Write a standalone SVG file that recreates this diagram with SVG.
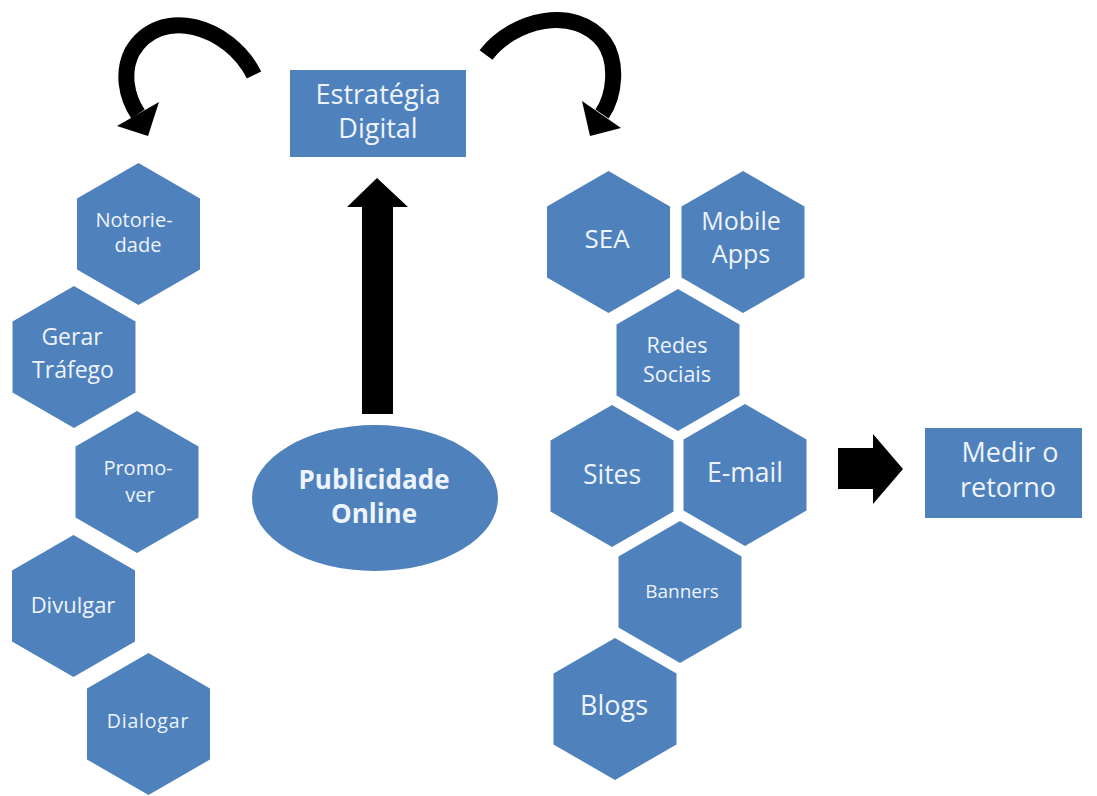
<svg xmlns="http://www.w3.org/2000/svg" xmlns:xlink="http://www.w3.org/1999/xlink" width="1097" height="796" viewBox="0 0 1097 796">
  <style>
    .shape { fill: #4f81bd; }
    .lbl { font-family: "Open Sans", Lato, "Liberation Sans", sans-serif; fill: #eef4fc; text-anchor: middle; }
    .bold { font-weight: bold; }
    .curve { fill: none; stroke: #000; stroke-width: 16; stroke-linecap: butt; }
    .solid { fill: #000; }
  </style>
  <defs>
    <!-- pointy-top hexagon, radius 71 -->
    <polygon id="hex" points="0,-71 61.5,-35.5 61.5,35.5 0,71 -61.5,35.5 -61.5,-35.5"/>
  </defs>
  <rect width="1097" height="796" fill="#ffffff"/>

  <!-- central nodes -->
  <g id="estrategia">
    <rect class="shape" x="290" y="70" width="176" height="87"/>
    <text class="lbl" x="378" y="104" font-size="27">Estratégia</text>
    <text class="lbl" x="378" y="138" font-size="27">Digital</text>
  </g>
  <g id="publicidade">
    <ellipse class="shape" cx="375" cy="498" rx="123" ry="73"/>
    <text class="lbl bold" x="374" y="489" font-size="26">Publicidade</text>
    <text class="lbl bold" x="374" y="523" font-size="26">Online</text>
  </g>
  <g id="medir">
    <rect class="shape" x="925" y="428" width="157" height="90"/>
    <text class="lbl" x="1010" y="462" font-size="27">Medir o</text>
    <text class="lbl" x="1008" y="497" font-size="27">retorno</text>
  </g>

  <!-- objectives column -->
  <g id="notoriedade">
    <use xlink:href="#hex" class="shape" x="138.5" y="234"/>
    <text class="lbl" x="134" y="227" font-size="20">Notorie-</text>
    <text class="lbl" x="138" y="252" font-size="20">dade</text>
  </g>
  <g id="gerar-trafego">
    <use xlink:href="#hex" class="shape" x="74" y="357"/>
    <text class="lbl" x="72" y="345" font-size="23">Gerar</text>
    <text class="lbl" x="73" y="378" font-size="23">Tráfego</text>
  </g>
  <g id="promover">
    <use xlink:href="#hex" class="shape" x="137" y="482"/>
    <text class="lbl" x="138" y="475" font-size="20">Promo-</text>
    <text class="lbl" x="140" y="502" font-size="20">ver</text>
  </g>
  <g id="divulgar">
    <use xlink:href="#hex" class="shape" x="73.5" y="606"/>
    <text class="lbl" x="73" y="613" font-size="22">Divulgar</text>
  </g>
  <g id="dialogar">
    <use xlink:href="#hex" class="shape" x="148.5" y="724"/>
    <text class="lbl" x="148" y="728" font-size="19.5" letter-spacing="0.8">Dialogar</text>
  </g>

  <!-- channels cluster -->
  <g id="sea">
    <use xlink:href="#hex" class="shape" x="608.5" y="242"/>
    <text class="lbl" x="607" y="248" font-size="26">SEA</text>
  </g>
  <g id="mobile-apps">
    <use xlink:href="#hex" class="shape" x="743" y="242"/>
    <text class="lbl" x="741" y="230" font-size="25">Mobile</text>
    <text class="lbl" x="741" y="263" font-size="25">Apps</text>
  </g>
  <g id="redes-sociais">
    <use xlink:href="#hex" class="shape" x="678" y="360"/>
    <text class="lbl" x="677" y="353" font-size="21.5">Redes</text>
    <text class="lbl" x="677" y="382" font-size="21.5">Sociais</text>
  </g>
  <g id="sites">
    <use xlink:href="#hex" class="shape" x="612" y="476"/>
    <text class="lbl" x="612" y="484" font-size="26.5">Sites</text>
  </g>
  <g id="email">
    <use xlink:href="#hex" class="shape" x="745" y="475"/>
    <text class="lbl" x="745" y="482" font-size="26.5">E-mail</text>
  </g>
  <g id="banners">
    <use xlink:href="#hex" class="shape" x="680" y="592"/>
    <text class="lbl" x="682" y="598" font-size="19">Banners</text>
  </g>
  <g id="blogs">
    <use xlink:href="#hex" class="shape" x="615" y="709"/>
    <text class="lbl" x="614" y="715" font-size="27">Blogs</text>
  </g>

  <!-- connectors -->
  <g id="connectors">
    <!-- curved arrow towards the objectives -->
    <path class="curve" d="M 254 75 C 230 26, 160 4, 132 52 C 122 72, 126 96, 138 114"/>
    <polygon class="solid" points="117,126 159,102 148,136"/>
    <!-- curved arrow towards the channels -->
    <path class="curve" d="M 486 55 C 512 20, 575 4, 604 42 C 618 62, 615 95, 602 114"/>
    <polygon class="solid" points="582,101 621,128 590,136"/>
    <!-- upward block arrow -->
    <polygon class="solid" points="362,414 362,207 347,207 377,178 408,207 393,207 393,414"/>
    <!-- right block arrow -->
    <polygon class="solid" points="838,448 873,448 873,434 903,469 873,504 873,489 838,489"/>
  </g>
</svg>
